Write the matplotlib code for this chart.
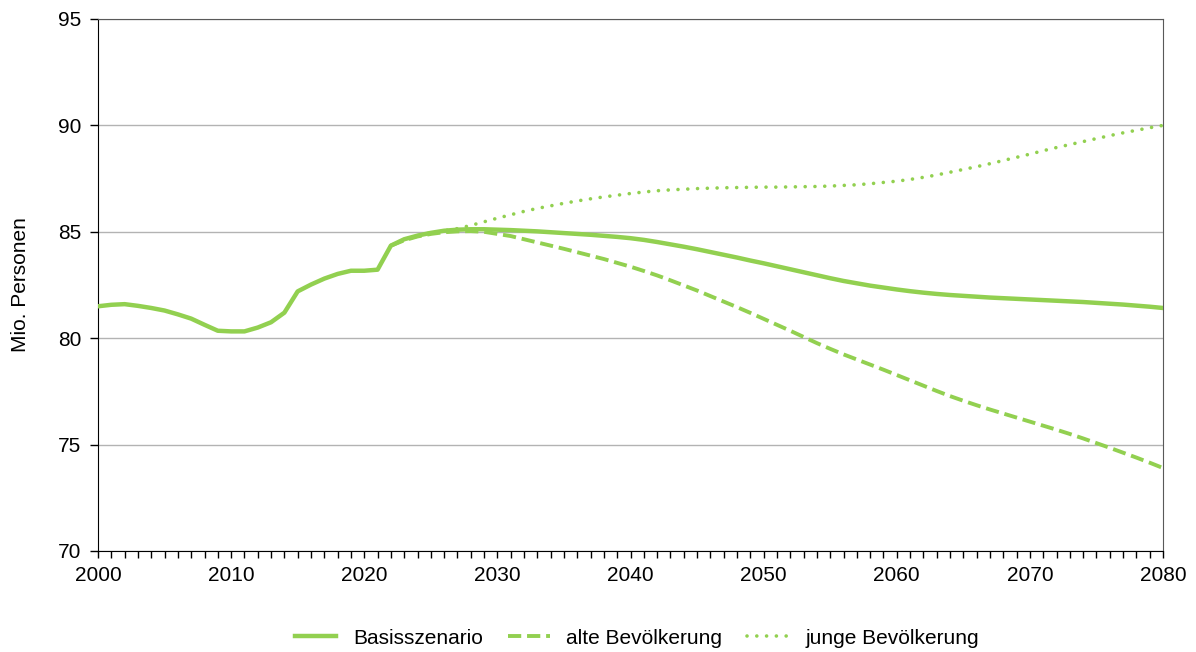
import matplotlib
matplotlib.use("Agg")
from matplotlib import pyplot as plt
from matplotlib.ticker import MultipleLocator

plt.rcParams['font.family'] = ['Liberation Sans', 'DejaVu Sans']

# historical values 2000-2022 (Mio.)
hist_years = list(range(2000, 2023))
hist_vals = [81.5, 81.57, 81.6, 81.52, 81.42, 81.3, 81.12, 80.92, 80.63, 80.35,
             80.32, 80.32, 80.5, 80.75, 81.2, 82.2, 82.52, 82.8, 83.02, 83.17,
             83.17, 83.22, 84.35]

# projections 2022-2080
proj_years = list(range(2022, 2081))
basis = [84.35, 84.65, 84.82, 84.95, 85.05, 85.1, 85.12, 85.12, 85.1, 85.08,
         85.05, 85.02, 84.98, 84.94, 84.9, 84.86, 84.81, 84.76, 84.7, 84.62,
         84.52, 84.41, 84.3, 84.18, 84.05, 83.92, 83.79, 83.65, 83.52, 83.38,
         83.24, 83.1, 82.96, 82.82, 82.69, 82.58, 82.47, 82.38, 82.29, 82.21,
         82.14, 82.08, 82.03, 81.99, 81.95, 81.91, 81.88, 81.85, 81.82, 81.79,
         81.76, 81.73, 81.7, 81.66, 81.62, 81.58, 81.53, 81.48, 81.42]
alte = [84.35, 84.6, 84.78, 84.9, 84.98, 85.02, 85.03, 85.0, 84.9, 84.8,
        84.65, 84.5, 84.35, 84.2, 84.04, 83.88, 83.72, 83.54, 83.36, 83.16,
        82.95, 82.72, 82.48, 82.24, 81.98, 81.72, 81.46, 81.19, 80.91, 80.63,
        80.35, 80.06, 79.77, 79.5, 79.24, 79.0, 78.76, 78.52, 78.27, 78.02,
        77.77, 77.52, 77.28, 77.06, 76.85, 76.65, 76.46, 76.27, 76.08, 75.89,
        75.7, 75.5, 75.29, 75.07, 74.85, 74.62, 74.39, 74.15, 73.9]
junge = [84.35, 84.65, 84.82, 84.95, 85.05, 85.15, 85.3, 85.47, 85.64, 85.8,
         85.96, 86.1, 86.22, 86.34, 86.45, 86.55, 86.64, 86.72, 86.8, 86.87,
         86.93, 86.97, 87.0, 87.03, 87.05, 87.07, 87.08, 87.09, 87.1, 87.1,
         87.11, 87.12, 87.13, 87.15, 87.18, 87.21, 87.26, 87.32, 87.38, 87.46,
         87.56, 87.67, 87.8, 87.93, 88.06, 88.2, 88.35, 88.5, 88.65, 88.81,
         88.96, 89.1, 89.24, 89.38, 89.52, 89.65, 89.77, 89.89, 90.0]

labels = ["Basisszenario", "alte Bevölkerung", "junge Bevölkerung"]
green = "#92D050"
fs = 15

fig = plt.figure(figsize=(11.96, 6.52), dpi=100)
ax = fig.add_axes([98/1196, 1 - 551/652, (1163 - 98)/1196, (551 - 19)/652])

ax.plot(proj_years, junge, color=green, lw=2.6, linestyle=(0, (0.01, 2.7)),
        dash_capstyle='round', label=labels[2], zorder=3)
ax.plot(proj_years, alte, color=green, lw=2.8, linestyle=(0, (3.4, 1.5)),
        label=labels[1], zorder=3)
ax.plot(hist_years + proj_years[1:], hist_vals + basis[1:], color=green, lw=3.2,
        label=labels[0], zorder=4)

ax.set_xlim(2000, 2080)
ax.set_ylim(70, 95)
ax.xaxis.set_major_locator(MultipleLocator(10))
ax.xaxis.set_minor_locator(MultipleLocator(1))
ax.yaxis.set_major_locator(MultipleLocator(5))
ax.tick_params(axis='x', which='both', direction='out', length=5, width=1, labelsize=fs, pad=6)
ax.tick_params(axis='y', direction='out', length=6, width=1, labelsize=fs, pad=6)
ax.grid(axis='y', color='#b3b3b3', lw=1)
ax.set_axisbelow(True)
ax.spines['left'].set_color('black')
ax.spines['bottom'].set_color('black')
ax.spines['right'].set_color('#595959')
ax.spines['top'].set_color('#595959')
ax.set_ylabel("Mio. Personen", fontsize=fs, labelpad=20)

handles, labs = ax.get_legend_handles_labels()
order = [2, 1, 0]
fig.legend([handles[i] for i in order], [labs[i] for i in order], loc='center',
           bbox_to_anchor=(637/1196, 1 - 638/652), ncol=3, frameon=False,
           fontsize=fs, handlelength=2, columnspacing=1.2, handletextpad=0.8)

plt.savefig("out.png", dpi=100)
